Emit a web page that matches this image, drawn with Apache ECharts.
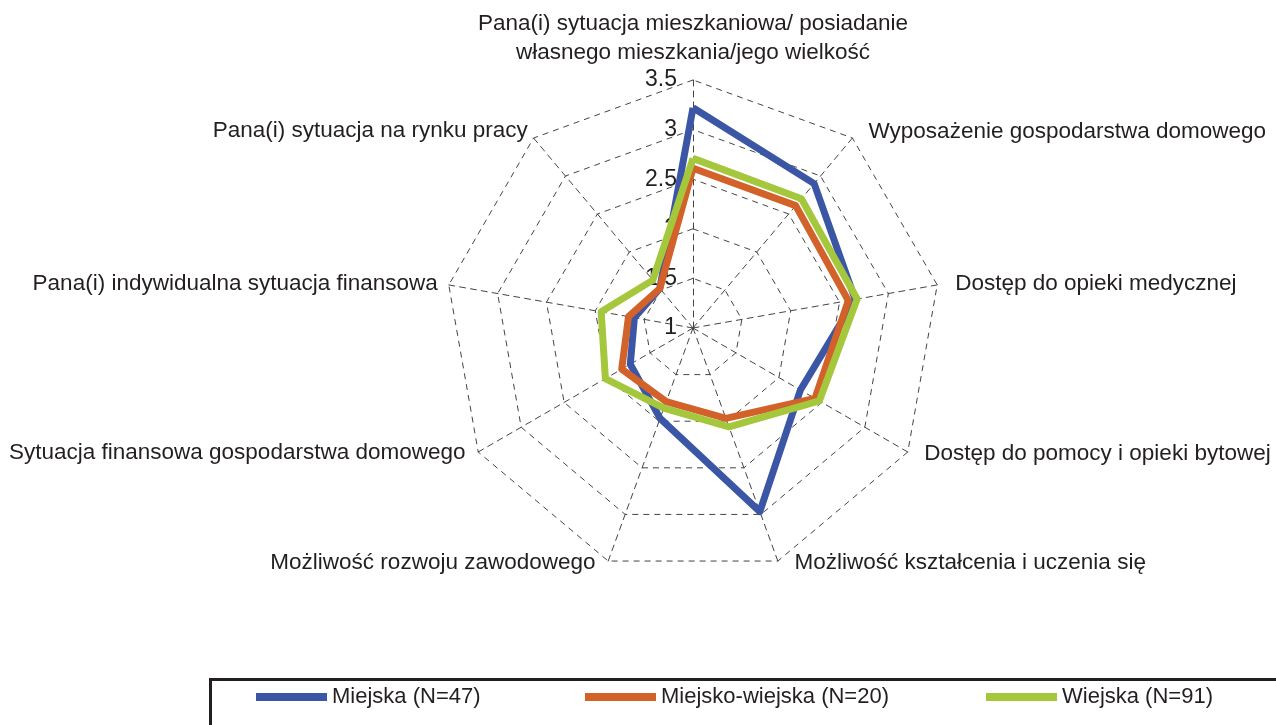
<!DOCTYPE html>
<html>
<head>
<meta charset="UTF-8">
<title>Radar</title>
<script src="https://cdn.jsdelivr.net/npm/echarts@6/dist/echarts.min.js"></script>
</head>
<body style="margin:0;background:#fff;">
<div id="main" style="width:1276px;height:725px;"></div>
<script type="text/javascript">
// indicators, counter-clockwise starting from the top
var indicators = [
	'Pana(i) sytuacja mieszkaniowa/ posiadanie\nwłasnego mieszkania/jego wielkość',
	'Pana(i) sytuacja na rynku pracy',
	'Pana(i) indywidualna sytuacja finansowa',
	'Sytuacja finansowa gospodarstwa domowego',
	'Możliwość rozwoju zawodowego',
	'Możliwość kształcenia i uczenia się',
	'Dostęp do pomocy i opieki bytowej',
	'Dostęp do opieki medycznej',
	'Wyposażenie gospodarstwa domowego'
];
var seriesNames = ['Miejska (N=47)', 'Miejsko-wiejska (N=20)', 'Wiejska (N=91)'];
var miejska = [3.22, 1.52, 1.60, 1.73, 1.97, 2.97, 2.25, 2.66, 2.90];
var miejskoWiejska = [2.61, 1.52, 1.66, 1.83, 1.79, 1.97, 2.42, 2.59, 2.61];
var wiejska = [2.71, 1.63, 1.94, 2.02, 1.86, 2.06, 2.47, 2.68, 2.70];

// layout only
var colors = ['#3b56a5', '#d2612a', '#a4c73c'];
var nameGaps = [13, 9, 4, 2, 2, 2, 4, 4, 8];
var namePads = [0, 0, 7, 11, 12, 16, 13, 14, 11]; // left pad on right side, right pad on left side
var legendLeft = [256, 585, 986];
var font = 'Liberation Sans, Arial, sans-serif';

var myChart = echarts.init(document.getElementById('main'));

var indicatorOpts = [];
for (var i = 0; i < indicators.length; i++) {
	var ind = { name: indicators[i], min: 1, max: 3.5, nameGap: nameGaps[i] };
	if (i == 0) {
		ind.axisLabel = { show: true, fontSize: 23, color: '#231f20', margin: 16, fontFamily: font };
	} else if (i <= 4) {
		ind.nameTextStyle = { padding: [0, namePads[i], 0, 0] };
	} else {
		ind.nameTextStyle = { padding: [0, 0, 0, namePads[i]] };
	}
	indicatorOpts.push(ind);
}

var legends = [];
for (var i = 0; i < seriesNames.length; i++) {
	legends.push({
		data: [seriesNames[i]],
		left: legendLeft[i],
		top: 686,
		padding: 0,
		icon: 'rect',
		itemWidth: 71,
		itemHeight: 8,
		itemGap: 2,
		textStyle: { fontSize: 22, color: '#231f20', fontFamily: font, padding: [8, 0, 0, 0] }
	});
}

var option = {
	animation: false,
	color: colors,
	legend: legends,
	graphic: [{
		type: 'rect',
		left: 208,
		top: 677,
		shape: { width: 1070, height: 60 },
		style: { fill: 'none', stroke: '#231f20', lineWidth: 3 }
	}],
	radar: {
		center: [693, 328],
		radius: 248,
		startAngle: 90,
		splitNumber: 5,
		shape: 'polygon',
		indicator: indicatorOpts,
		axisName: {
			color: '#231f20',
			fontSize: 22.5,
			lineHeight: 29,
			fontFamily: font
		},
		nameGap: 4,
		axisLabel: { show: false },
		axisTick: { show: false },
		splitArea: { show: false },
		splitLine: { lineStyle: { color: '#444', width: 1, type: [6, 5] } },
		axisLine: { lineStyle: { color: '#444', width: 1, type: [6, 5] } }
	},
	series: [{
		type: 'radar',
		symbol: 'none',
		lineStyle: { width: 7 },
		data: [
			{ name: seriesNames[0], value: miejska, lineStyle: { color: colors[0], width: 7 }, itemStyle: { color: colors[0] } },
			{ name: seriesNames[1], value: miejskoWiejska, lineStyle: { color: colors[1], width: 7 }, itemStyle: { color: colors[1] } },
			{ name: seriesNames[2], value: wiejska, lineStyle: { color: colors[2], width: 7 }, itemStyle: { color: colors[2] } }
		]
	}]
};
myChart.setOption(option);
</script>
</body>
</html>
